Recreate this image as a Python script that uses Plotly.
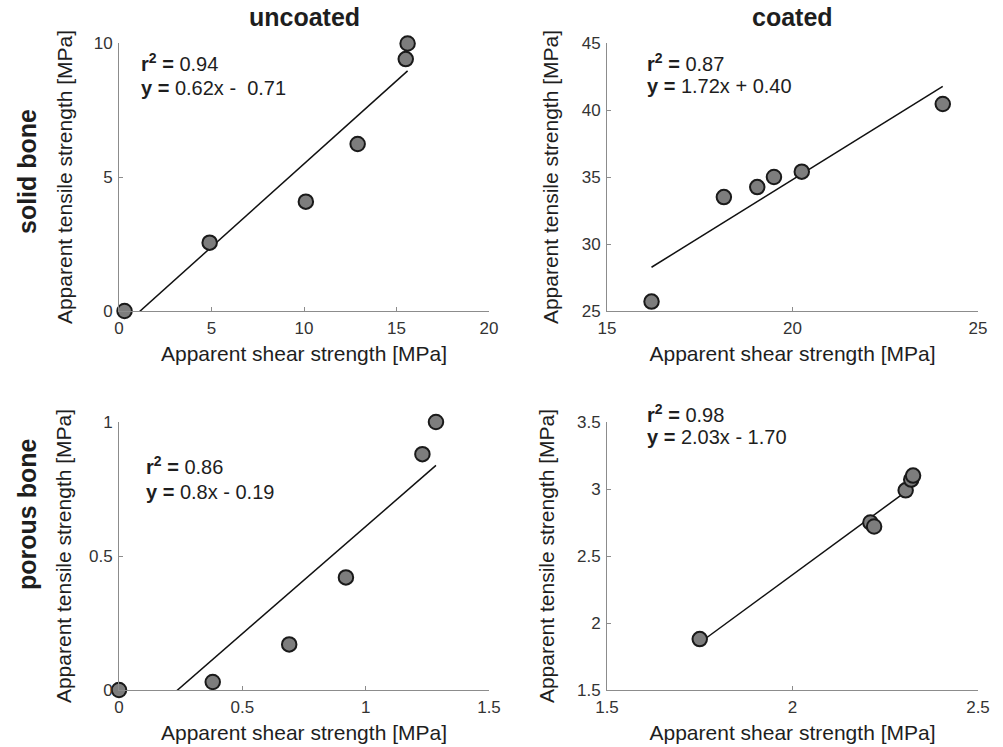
import plotly.graph_objects as go

# ---------------- data ----------------
solid_uncoated_shear = [0.3, 4.9, 10.1, 12.9, 15.5, 15.6]
solid_uncoated_tensile = [0.0, 2.55, 4.08, 6.23, 9.4, 9.98]

solid_coated_shear = [16.2, 18.15, 19.05, 19.5, 20.25, 24.05]
solid_coated_tensile = [25.7, 33.5, 34.25, 35.0, 35.4, 40.45]

porous_uncoated_shear = [0.0, 0.38, 0.69, 0.92, 1.23, 1.285]
porous_uncoated_tensile = [0.0, 0.03, 0.17, 0.42, 0.88, 1.0]

porous_coated_shear = [1.75, 2.21, 2.22, 2.305, 2.32, 2.325]
porous_coated_tensile = [1.88, 2.75, 2.72, 2.99, 3.07, 3.10]

fit_slopes = [0.62, 1.72, 0.8, 2.03]
fit_intercepts = [-0.71, 0.40, -0.19, -1.70]
r_squared_labels = ["0.94", "0.87", "0.86", "0.98"]
equation_labels = ["0.62x -  0.71", "1.72x + 0.40", "0.8x - 0.19", "2.03x - 1.70"]

column_titles = ["uncoated", "coated"]
row_titles = ["solid bone", "porous bone"]
x_title = "Apparent shear strength [MPa]"
y_title = "Apparent tensile strength [MPa]"

x_ranges = [[0, 20], [15, 25], [0, 1.5], [1.5, 2.5]]
y_ranges = [[0, 10], [25, 45], [0, 1], [1.5, 3.5]]
x_ticks = [[0, 5, 10, 15, 20], [15, 20, 25], [0, 0.5, 1, 1.5], [1.5, 2, 2.5]]
y_ticks = [[0, 5, 10], [25, 30, 35, 40, 45], [0, 0.5, 1], [1.5, 2, 2.5, 3, 3.5]]

# ---------------- layout geometry (pixels) ----------------
W, H = 1003, 747
col_px = [(119, 489), (607, 978)]
row_px = [(43, 311), (422, 690)]
panels = [(0, 0), (0, 1), (1, 0), (1, 1)]  # (row, col)
y_standoffs = [15, 17, 11, 16]
ann_pos = [(139, 62, 88), (645, 62, 86), (144, 465, 492), (645, 413, 437)]

FONT = "Liberation Sans, Arial, Helvetica, sans-serif"
AX_COLOR = "#8c8c8c"
TXT = "#1e1e1e"

datasets = [
    (solid_uncoated_shear, solid_uncoated_tensile),
    (solid_coated_shear, solid_coated_tensile),
    (porous_uncoated_shear, porous_uncoated_tensile),
    (porous_coated_shear, porous_coated_tensile),
]

fig = go.Figure()
layout_axes = {}
annotations = []

for i, ((r, c), (xs, ys)) in enumerate(zip(panels, datasets)):
    n = "" if i == 0 else str(i + 1)
    xa, ya = "x" + n, "y" + n
    x0, x1 = col_px[c]
    y0, y1 = row_px[r]

    # regression line across the data range
    xmin, xmax = min(xs), max(xs)
    fig.add_trace(go.Scatter(
        x=[xmin, xmax],
        y=[fit_slopes[i] * xmin + fit_intercepts[i], fit_slopes[i] * xmax + fit_intercepts[i]],
        mode="lines", line=dict(color="#111111", width=1.5),
        xaxis=xa, yaxis=ya, showlegend=False, hoverinfo="skip"))
    # data points
    fig.add_trace(go.Scatter(
        x=xs, y=ys, mode="markers",
        marker=dict(size=14.5, color="#7d7d7d", line=dict(color="#1a1a1a", width=2)),
        cliponaxis=False, xaxis=xa, yaxis=ya, showlegend=False))

    common = dict(showline=True, linecolor=AX_COLOR, linewidth=1,
                  ticks="inside", ticklen=4, tickcolor=AX_COLOR,
                  showgrid=False, zeroline=False, automargin=False,
                  tickfont=dict(family=FONT, size=17, color="#333333"))
    layout_axes["xaxis" + n] = dict(
        common, domain=[x0 / W, x1 / W], range=x_ranges[i], tickvals=x_ticks[i],
        anchor=ya, ticklabelstandoff=2,
        title=dict(text=x_title, standoff=8, font=dict(family=FONT, size=21, color=TXT)))
    layout_axes["yaxis" + n] = dict(
        common, domain=[1 - y1 / H, 1 - y0 / H], range=y_ranges[i], tickvals=y_ticks[i],
        anchor=xa, ticklabelstandoff=2,
        title=dict(text=y_title, standoff=y_standoffs[i], font=dict(family=FONT, size=21, color=TXT)))

    ax, ay1, ay2 = ann_pos[i]
    annotations.append(dict(
        x=ax / W, y=1 - ay1 / H, xref="paper", yref="paper", xanchor="left", yanchor="middle",
        text="<b>r<sup>2</sup> =</b> " + r_squared_labels[i], showarrow=False,
        font=dict(family=FONT, size=20, color=TXT)))
    annotations.append(dict(
        x=ax / W, y=1 - ay2 / H, xref="paper", yref="paper", xanchor="left", yanchor="middle",
        text="<b>y =</b> " + equation_labels[i], showarrow=False,
        font=dict(family=FONT, size=20, color=TXT)))

# column titles
for c, t in enumerate(column_titles):
    cx = (col_px[c][0] + col_px[c][1]) / 2
    annotations.append(dict(
        x=cx / W, y=1 - 17 / H, xref="paper", yref="paper", xanchor="center", yanchor="middle",
        text="<b>" + t + "</b>", showarrow=False, font=dict(family=FONT, size=25, color=TXT)))
# row titles
for r, (t, cy) in enumerate(zip(row_titles, [172, 515])):
    annotations.append(dict(
        x=27 / W, y=1 - cy / H, xref="paper", yref="paper", xanchor="center", yanchor="middle",
        text="<b>" + t + "</b>", textangle=-90, showarrow=False,
        font=dict(family=FONT, size=25, color=TXT)))

fig.update_layout(
    width=W, height=H, margin=dict(l=0, r=0, t=0, b=0, pad=0, autoexpand=False),
    paper_bgcolor="white", plot_bgcolor="white",
    font=dict(family=FONT, color=TXT),
    annotations=annotations, **layout_axes)

fig.write_html(
    "out.html",
    config={"displayModeBar": False},
    post_script="document.body.style.margin='0';document.body.style.overflow='hidden';",
)
